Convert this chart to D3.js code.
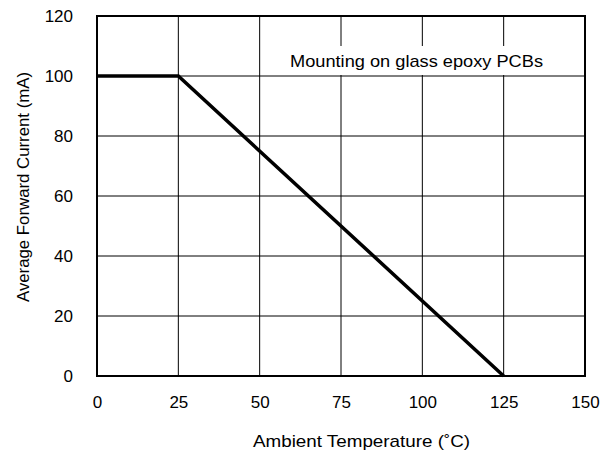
<!DOCTYPE html>
<html>
<head>
<meta charset="utf-8">
<script src="https://cdn.jsdelivr.net/npm/d3@7"></script>
<style>
  body { margin: 0; background: #fff; }
  text { font-family: "Liberation Sans", Arial, sans-serif; fill: #000; }
</style>
</head>
<body>
<svg id="chart" width="608" height="457"></svg>
<script>
// data
const temps = [0, 25, 125];
const currents = [100, 100, 0];
const xTicks = [0, 25, 50, 75, 100, 125, 150];
const yTicks = [0, 20, 40, 60, 80, 100, 120];

const margin = { top: 16, right: 23, bottom: 81, left: 97 },
      width = 608 - margin.left - margin.right,
      height = 457 - margin.top - margin.bottom;

const svg = d3.select("#chart")
  .append("g")
  .attr("transform", `translate(${margin.left},${margin.top})`);

const x = d3.scaleLinear().domain([0, 150]).range([0, width]);
const y = d3.scaleLinear().domain([0, 120]).range([height, 0]);

// grid
svg.selectAll(".vgrid").data(xTicks.slice(1, -1)).enter().append("line")
  .attr("x1", d => x(d)).attr("x2", d => x(d))
  .attr("y1", 0).attr("y2", height)
  .attr("stroke", "#000").attr("stroke-width", 1);
svg.selectAll(".hgrid").data(yTicks.slice(1, -1)).enter().append("line")
  .attr("y1", d => y(d)).attr("y2", d => y(d))
  .attr("x1", 0).attr("x2", width)
  .attr("stroke", "#000").attr("stroke-width", 1);

// annotation box
svg.append("rect")
  .attr("x", 178).attr("y", 30)
  .attr("width", 284).attr("height", 29)
  .attr("fill", "#fff");
svg.append("text")
  .attr("x", 319.5).attr("y", 51)
  .attr("text-anchor", "middle")
  .style("font-size", "17px")
  .attr("textLength", 253)
  .attr("lengthAdjust", "spacingAndGlyphs")
  .text("Mounting on glass epoxy PCBs");

// frame
svg.append("rect")
  .attr("width", width).attr("height", height)
  .attr("fill", "none").attr("stroke", "#000").attr("stroke-width", 2);

// data line
const line = d3.line().x((d, i) => x(temps[i])).y(d => y(d));
svg.append("path")
  .datum(currents)
  .attr("fill", "none")
  .attr("stroke", "#000")
  .attr("stroke-width", 3.5)
  .attr("d", line);

// axes (labels only)
const xAxis = svg.append("g")
  .attr("transform", `translate(0,${height})`)
  .call(d3.axisBottom(x).tickValues(xTicks).tickSize(0).tickPadding(20));
xAxis.select(".domain").remove();
xAxis.selectAll("text").style("font-size", "17px").attr("font-family", null);

const yAxis = svg.append("g")
  .call(d3.axisLeft(y).tickValues(yTicks).tickSize(0).tickPadding(24));
yAxis.select(".domain").remove();
yAxis.selectAll("text").style("font-size", "17px").attr("font-family", null);

// axis titles
svg.append("text")
  .attr("x", 264.5).attr("y", height + 71)
  .attr("text-anchor", "middle")
  .style("font-size", "17px")
  .attr("textLength", 217)
  .attr("lengthAdjust", "spacingAndGlyphs")
  .text("Ambient Temperature (˚C)");

svg.append("text")
  .attr("transform", "rotate(-90)")
  .attr("x", -171).attr("y", -68)
  .attr("text-anchor", "middle")
  .style("font-size", "17px")
  .attr("textLength", 230)
  .attr("lengthAdjust", "spacingAndGlyphs")
  .text("Average Forward Current (mA)");
</script>
</body>
</html>
